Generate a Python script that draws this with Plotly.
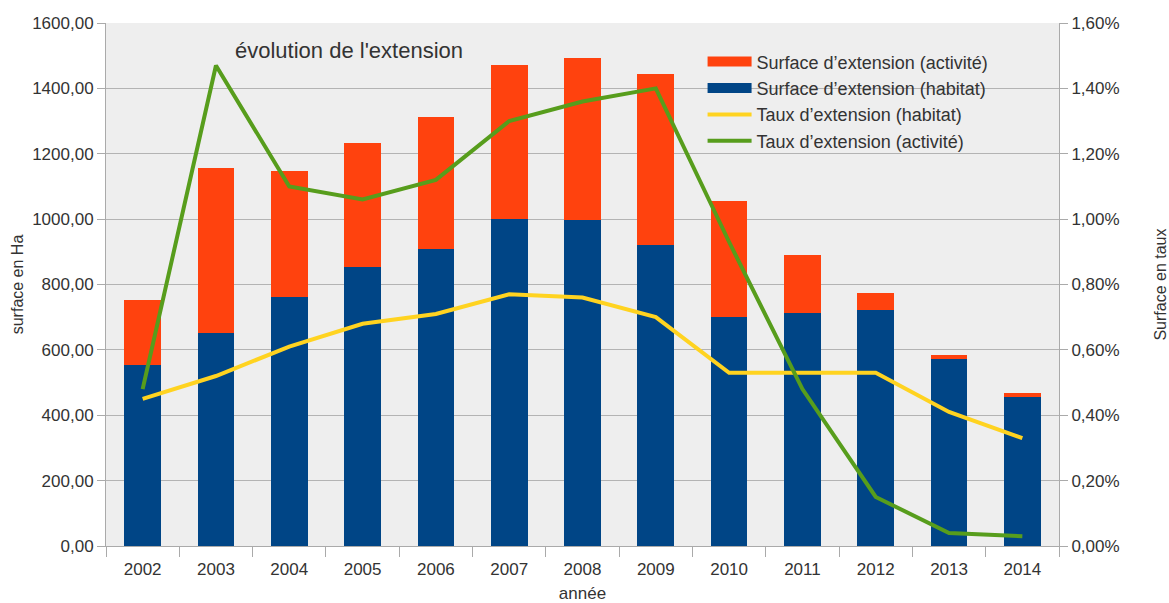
import plotly.graph_objects as go

years = ["2002", "2003", "2004", "2005", "2006", "2007", "2008", "2009", "2010", "2011", "2012", "2013", "2014"]
surface_habitat = [553, 651, 762, 853, 908, 1000, 997, 921, 700, 713, 722, 572, 456]
surface_total = [752, 1156, 1147, 1233, 1312, 1471, 1493, 1444, 1055, 890, 774, 584, 467]
surface_activite = [t - h for t, h in zip(surface_total, surface_habitat)]
taux_habitat = [0.0045, 0.0052, 0.0061, 0.0068, 0.0071, 0.0077, 0.0076, 0.0070, 0.0053, 0.0053, 0.0053, 0.0041, 0.0033]
taux_activite = [0.0048, 0.0147, 0.0110, 0.0106, 0.0112, 0.0130, 0.0136, 0.0140, 0.0093, 0.0048, 0.0015, 0.0004, 0.0003]

BLUE = "#004586"
ORANGE = "#FF420E"
YELLOW = "#FFD320"
GREEN = "#579D1C"
FONT = "Liberation Sans, Arial, sans-serif"

fig = go.Figure()
fig.add_trace(go.Bar(x=years, y=surface_habitat, marker=dict(color=BLUE, line=dict(width=0)),
                     name="Surface d\u2019extension (habitat)", showlegend=False))
fig.add_trace(go.Bar(x=years, y=surface_activite, marker=dict(color=ORANGE, line=dict(width=0)),
                     name="Surface d\u2019extension (activité)", showlegend=False))
fig.add_trace(go.Scatter(x=years, y=taux_habitat, yaxis="y2", mode="lines",
                         line=dict(color=YELLOW, width=4), name="Taux d\u2019extension (habitat)",
                         legendrank=3))
fig.add_trace(go.Scatter(x=years, y=taux_activite, yaxis="y2", mode="lines",
                         line=dict(color=GREEN, width=4), name="Taux d\u2019extension (activité)",
                         legendrank=4))
# legend proxies for the bars (wide rectangles)
fig.add_trace(go.Scatter(x=[None], y=[None], mode="lines", line=dict(color=ORANGE, width=10),
                         name="Surface d\u2019extension (activité)", legendrank=1))
fig.add_trace(go.Scatter(x=[None], y=[None], mode="lines", line=dict(color=BLUE, width=10),
                         name="Surface d\u2019extension (habitat)", legendrank=2))

fig.update_layout(
    width=1169, height=603,
    margin=dict(l=106, r=110, t=23, b=57),
    paper_bgcolor="white",
    plot_bgcolor="#EEEEEE",
    barmode="stack",
    bargap=0.5,
    separators=",.",
    font=dict(family=FONT, size=17, color="#333333"),
    showlegend=True,
    legend=dict(x=0.626, y=0.961, xanchor="left", yanchor="top", traceorder="normal",
                bgcolor="rgba(0,0,0,0)", font=dict(size=18, color="#333333"),
                itemwidth=44, tracegroupgap=0),
    xaxis=dict(type="category", tickson="boundaries", ticks="outside", ticklen=10,
               tickcolor="#AAAAAA", showline=True, linecolor="#AAAAAA", showgrid=False,
               ticklabelstandoff=8,
               title=dict(text="année", standoff=18, font=dict(size=17)),
               automargin=False, tickfont=dict(size=17)),
    yaxis=dict(range=[0, 1600], dtick=200, tickformat=".2f", ticks="outside", ticklen=8,
               tickcolor="#AAAAAA", showline=True, linecolor="#AAAAAA",
               gridcolor="#B3B3B3", gridwidth=1, zeroline=False,
               title=dict(text="surface en Ha", standoff=4, font=dict(size=16)),
               automargin=False, tickfont=dict(size=17)),
    yaxis2=dict(range=[0, 0.016], dtick=0.002, tickformat=".2%", overlaying="y", side="right",
                ticks="outside", ticklen=8, tickcolor="#AAAAAA", showline=True, linecolor="#AAAAAA",
                showgrid=False, zeroline=False,
                title=dict(text="Surface en taux", standoff=36, font=dict(size=16)),
                automargin=False, tickfont=dict(size=17)),
    annotations=[dict(text="évolution de l'extension", xref="paper", yref="paper",
                      x=0.133, y=0.948, xanchor="left", yanchor="middle", showarrow=False,
                      font=dict(size=22, color="#333333", family=FONT))],
)

fig.write_html("out.html")
